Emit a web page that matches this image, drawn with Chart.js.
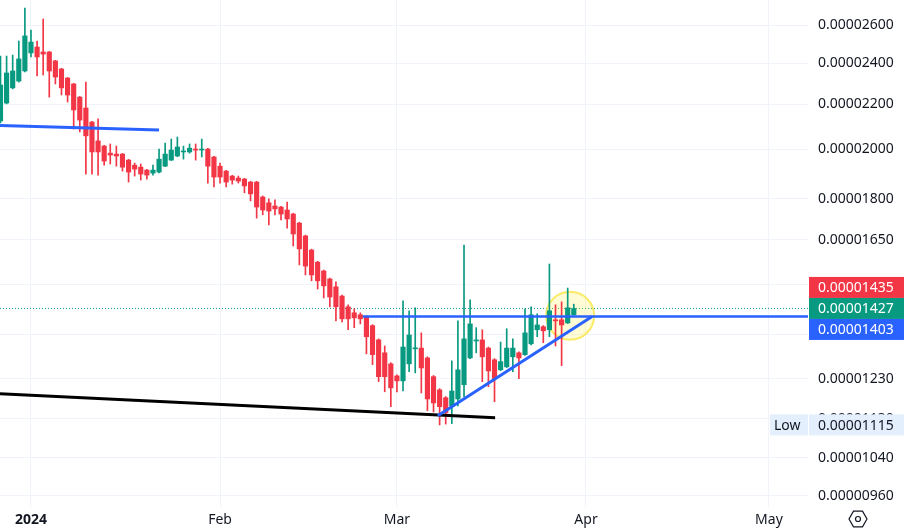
<!DOCTYPE html>
<html>
<head>
<meta charset="utf-8">
<script src="https://cdn.jsdelivr.net/npm/chart.js@4.4.1/dist/chart.umd.min.js"></script>
<style>
  html, body { margin: 0; padding: 0; background: #fff; }
</style>
</head>
<body>
<canvas id="chart" width="905" height="528"></canvas>
<script>
// daily candles, prices are in units of 0.00000001
// day 0 = 1 Jan 2024, first candle is 27 Dec 2023
const firstDay = -5;

const opens = [2123,2205,2277,2310,2360,2452,2483,2457,2457,2411,2370,2325,2296,2233,2182,2118,2035,2013,1983,1979,
  1979,1954,1933,1925,1913,1901,1905,1929,1954,1971,1988,1988,2000,1996,2000,1967,1929,1909,1889,1881,
  1877,1865,1865,1807,1785,1773,1769,1758,1743,1710,1664,1615,1574,1545,1519,1494,1465,1432,1414,1408,
  1402,1376,1335,1299,1269,1237,1224,1269,1310,1312,1285,1235,1201,1181,1161,1178,1214,1285,1332,1335,
  1312,1280,1253,1261,1288,1299,1294,1324,1364,1373,1364,1393,1393,1384,1408];
const highs = [2436,2436,2441,2515,2697,2574,2515,2635,2460,2414,2373,2328,2299,2236,2305,2121,2132,2016,2022,2013,
  1982,1957,1942,1938,1916,1933,2000,2026,2043,2052,2013,2022,2022,2043,2003,1970,1942,1912,1892,1889,
  1880,1868,1868,1811,1800,1796,1772,1788,1746,1713,1667,1618,1577,1548,1522,1510,1468,1438,1426,1414,
  1405,1379,1338,1318,1272,1240,1450,1420,1429,1355,1288,1238,1204,1184,1277,1390,1632,1453,1370,1364,
  1315,1283,1329,1367,1338,1302,1426,1432,1411,1376,1568,1438,1447,1490,1440];
const lows = [2114,2201,2272,2305,2355,2431,2335,2340,2233,2296,2243,2210,2087,2074,1897,1897,1893,1933,1938,1929,
  1909,1865,1889,1873,1877,1893,1902,1927,1952,1968,1958,1983,1954,1967,1861,1846,1861,1846,1857,1861,
  1823,1792,1728,1740,1703,1740,1721,1692,1629,1565,1532,1513,1487,1459,1432,1390,1387,1364,1370,1381,
  1296,1267,1222,1196,1159,1196,1198,1248,1245,1193,1149,1146,1115,1117,1118,1161,1183,1283,1299,1222,
  1209,1171,1251,1259,1248,1230,1292,1321,1344,1327,1344,1318,1264,1382,1406];
const closes = [2291,2350,2360,2421,2542,2509,2431,2446,2360,2330,2277,2243,2173,2127,2057,1988,1988,1950,1975,1971,
  1925,1905,1917,1897,1893,1913,1958,1979,1996,2009,1992,2004,1996,2000,1929,1885,1885,1865,1873,1869,
  1850,1819,1769,1758,1754,1762,1743,1725,1671,1619,1561,1532,1513,1497,1462,1432,1396,1396,1399,1396,
  1344,1294,1235,1235,1206,1224,1315,1349,1312,1258,1178,1168,1159,1144,1198,1253,1338,1381,1335,1288,
  1250,1230,1275,1312,1312,1285,1355,1408,1378,1361,1420,1390,1378,1429,1427];

// axis ticks
const monthDays = [0, 31, 60, 91, 121];
const monthLabels = ['2024', 'Feb', 'Mar', 'Apr', 'May'];
const priceTicks = [2600, 2400, 2200, 2000, 1800, 1650, 1500, 1350, 1230, 1130, 1040, 960];
const coveredTicks = [1500, 1350];

// drawings: [day, price]
const upperTrend = [[-5.08, 2103], [21.0, 2083]];
const neckline = [[54.4, 1403], [127.4, 1403]];
const risingSupport = [[66.7, 1137], [92.0, 1403]];
const lowerTrend = [[-5.08, 1191], [76.1, 1132]];
const highlight = [88.4, 1405];

// price tags on the axis
const lastPrice = 1427;
const askPrice = 1435;
const linePrice = 1403;
const lowPrice = 1115;

const UNIT = 1e-8;
const fmt = v => (v * UNIT).toFixed(8);
const GREEN = '#089981', RED = '#F23645', BLUE = '#2962FF', TEXT = '#131722';
const FONT = '"Noto Sans", "Open Sans", sans-serif';

const days = opens.map((_, i) => firstDay + i);
const candleColors = days.map((_, i) => closes[i] >= opens[i] ? GREEN : RED);
const toPts = arr => arr.map(p => ({ x: p[0], y: p[1] }));
const noPadding = s => { s.paddingLeft = 0; s.paddingRight = 0; s.paddingTop = 0; s.paddingBottom = 0; };

const tagsPlugin = {
  id: 'tags',
  afterDraw(chart) {
    const ctx = chart.ctx;
    const y = chart.scales.y;
    const left = chart.chartArea.right + 1;
    const w = 95, h = 21;
    const gy = y.getPixelForValue(lastPrice);
    const tags = [
      [askPrice, RED, gy - h],
      [lastPrice, GREEN, gy],
      [linePrice, BLUE, gy + h]
    ];
    ctx.save();
    ctx.font = '14px ' + FONT;
    ctx.textBaseline = 'middle';
    tags.forEach(t => {
      ctx.fillStyle = t[1];
      ctx.fillRect(left, t[2] - h / 2, w, h);
      ctx.fillStyle = '#fff';
      ctx.fillText(fmt(t[0]), left + 9, t[2] + 1);
    });
    // low tag
    const ly = y.getPixelForValue(lowPrice);
    ctx.fillStyle = '#e3effd';
    ctx.fillRect(left - 39, ly - h / 2, 38, h);
    ctx.fillRect(left, ly - h / 2, w, h);
    ctx.fillStyle = TEXT;
    ctx.fillText('Low', left - 35, ly + 1);
    ctx.fillText(fmt(lowPrice), left + 9, ly + 1);
    // settings icon
    const cx = 858, cy = 519, r = 9;
    ctx.strokeStyle = TEXT;
    ctx.lineWidth = 1.2;
    ctx.beginPath();
    for (let k = 0; k < 6; k++) {
      const a = Math.PI / 3 * k;
      const px = cx + r * Math.cos(a), py = cy + r * Math.sin(a);
      if (k === 0) ctx.moveTo(px, py); else ctx.lineTo(px, py);
    }
    ctx.closePath();
    ctx.stroke();
    ctx.beginPath();
    ctx.arc(cx, cy, 2.5, 0, Math.PI * 2);
    ctx.stroke();
    ctx.restore();
  }
};

new Chart(document.getElementById('chart'), {
  type: 'bar',
  data: {
    datasets: [
      { type: 'line', data: toPts(upperTrend), borderColor: BLUE, borderWidth: 3, pointRadius: 0, order: 0 },
      { type: 'line', data: toPts(neckline), borderColor: BLUE, borderWidth: 2.5, pointRadius: 0, order: 0 },
      { type: 'line', data: toPts(risingSupport), borderColor: BLUE, borderWidth: 3, pointRadius: 0, order: 0 },
      { type: 'line', data: toPts(lowerTrend), borderColor: '#000', borderWidth: 3, pointRadius: 0, order: 0 },
      {
        data: days.map((d, i) => ({ x: d, y: [opens[i], closes[i]] })),
        backgroundColor: candleColors, barThickness: 4.5, minBarLength: 1, grouped: false, order: 1
      },
      {
        data: days.map((d, i) => ({ x: d, y: [lows[i], highs[i]] })),
        backgroundColor: candleColors, barThickness: 1, grouped: false, order: 2
      },
      {
        type: 'bubble', data: [{ x: highlight[0], y: highlight[1], r: 24 }],
        backgroundColor: 'rgba(255, 235, 59, 0.22)', borderColor: 'rgba(250, 228, 60, 0.75)', borderWidth: 2, order: 3
      },
      {
        type: 'line', data: [{ x: -5.08, y: lastPrice }, { x: 127.4, y: lastPrice }],
        borderColor: GREEN, borderWidth: 1, borderDash: [1, 2], pointRadius: 0, order: 4
      }
    ]
  },
  options: {
    responsive: false,
    animation: false,
    devicePixelRatio: 1,
    events: [],
    layout: { padding: 0, autoPadding: false },
    plugins: { legend: { display: false }, tooltip: { enabled: false } },
    scales: {
      x: {
        type: 'linear',
        min: -5.08,
        max: 127.4,
        offset: false,
        grid: { color: '#f0f3fa', drawTicks: false, offset: false },
        border: { display: false },
        afterBuildTicks: s => { s.ticks = monthDays.map(v => ({ value: v })); },
        afterFit: s => { s.height = 21; noPadding(s); },
        ticks: {
          padding: 5,
          color: TEXT,
          maxRotation: 0,
          autoSkip: false,
          font: c => ({ family: FONT, size: 14, weight: c.index === 0 ? 'bold' : 'normal' }),
          callback: (v, i) => monthLabels[i]
        }
      },
      y: {
        type: 'logarithmic',
        position: 'right',
        min: 937,
        max: 2743,
        grid: { color: '#f0f3fa', drawTicks: false },
        border: { display: false },
        afterBuildTicks: s => { s.ticks = priceTicks.map(v => ({ value: v })); },
        afterFit: s => { s.width = 97; noPadding(s); },
        ticks: {
          padding: 10,
          color: TEXT,
          font: { family: FONT, size: 14 },
          callback: v => coveredTicks.includes(v) ? '' : fmt(v)
        }
      }
    }
  },
  plugins: [tagsPlugin]
});
</script>
</body>
</html>
